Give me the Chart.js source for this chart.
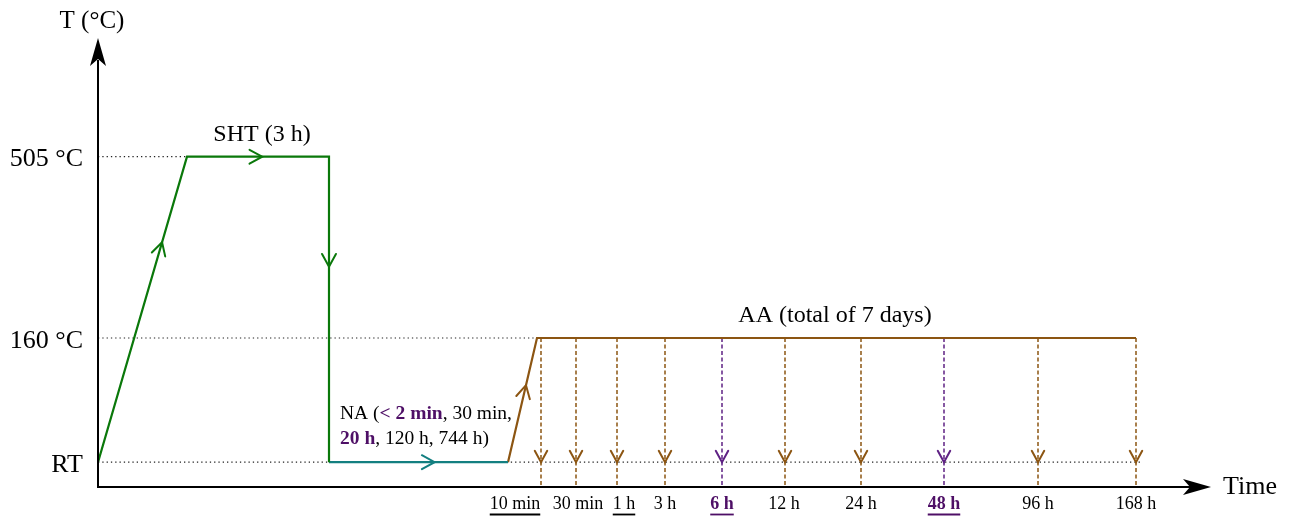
<!DOCTYPE html>
<html>
<head>
<meta charset="utf-8">
<script src="https://cdn.jsdelivr.net/npm/chart.js@4"></script>
<style>
  html, body { margin: 0; padding: 0; background: #ffffff; }
  #wrap { width: 1290px; height: 520px; }
</style>
</head>
<body>
<div id="wrap"><canvas id="c" width="1290" height="520"></canvas></div>
<script>
// ---- schematic data (time axis and temperature axis in schematic units) ----
const tempLevelLabels = ['RT', '160 °C', '505 °C'];
const tempLevelValues = [1, 6, 13.3];

const shtTimes = [0, 8.9, 23.1, 23.1];
const shtTemps = [1, 13.3, 13.3, 1];

const naTimes = [23.1, 41.0];
const naTemps = [1, 1];

const aaTimes = [41.0, 43.9, 103.8];
const aaTemps = [1, 6, 6];

const agingLabels = ['10 min', '30 min', '1 h', '3 h', '6 h', '12 h', '24 h', '48 h', '96 h', '168 h'];
const agingTimes = [44.3, 47.8, 51.9, 56.7, 62.4, 68.7, 76.3, 84.6, 94.0, 103.8];
const agingLabelTimes = [41.7, 48.0, 52.6, 56.7, 62.4, 68.6, 76.3, 84.6, 94.0, 103.8];
const agingHighlighted = [false, false, false, false, true, false, false, true, false, false];
const agingUnderlined = [true, false, true, false, true, false, false, true, false, false];

const refLineEnds = [104.2, 43.9, 8.9];   // where the dotted level lines stop

const timeMax = 111.2;
const tempMax = 18;

// ---- colours ----
const GREEN = '#0a780a';
const TEAL = '#137f80';
const BROWN = '#8c5512';
const PURPLE = '#5f2284';
const PURPLE_TEXT = '#4e0f66';
const SERIF = '"Liberation Serif", "Times New Roman", serif';

const pts = (xs, ys) => xs.map((v, i) => ({ x: v, y: ys[i] }));

const datasets = [];
datasets.push({ data: pts(shtTimes, shtTemps), borderColor: GREEN, borderWidth: 2.2, order: 0 });
datasets.push({ data: pts(naTimes, naTemps), borderColor: TEAL, borderWidth: 2.2, order: 0 });
datasets.push({ data: pts(aaTimes, aaTemps), borderColor: BROWN, borderWidth: 2.2, order: 0 });
agingTimes.forEach((t, i) => {
  datasets.push({
    data: [{ x: t, y: aaTemps[aaTemps.length - 1] }, { x: t, y: 0 }],
    borderColor: agingHighlighted[i] ? PURPLE : BROWN,
    borderWidth: 1.5, borderDash: [4, 2.5], order: 1
  });
});
tempLevelValues.forEach((v, i) => {
  datasets.push({
    data: [{ x: 0, y: v }, { x: refLineEnds[i], y: v }],
    borderColor: '#222222', borderWidth: 1.2, borderDash: [1.3, 3], order: 2
  });
});
datasets.forEach(d => { d.showLine = true; d.pointRadius = 0; d.fill = false; d.tension = 0; });

function chevron(ctx, tx, ty, ang, color, L, spread) {
  ctx.save();
  ctx.strokeStyle = color; ctx.lineWidth = 2; ctx.lineCap = 'round'; ctx.lineJoin = 'miter';
  ctx.beginPath();
  ctx.moveTo(tx + L * Math.cos(ang + Math.PI - spread), ty + L * Math.sin(ang + Math.PI - spread));
  ctx.lineTo(tx, ty);
  ctx.lineTo(tx + L * Math.cos(ang + Math.PI + spread), ty + L * Math.sin(ang + Math.PI + spread));
  ctx.stroke();
  ctx.restore();
}
function stealth(ctx, tx, ty, ang) {
  const c = Math.cos(ang), s = Math.sin(ang);
  const back = 28, half = 8, notch = 21;
  ctx.save();
  ctx.fillStyle = '#000';
  ctx.beginPath();
  ctx.moveTo(tx, ty);
  ctx.lineTo(tx - back * c - half * s, ty - back * s + half * c);
  ctx.lineTo(tx - notch * c, ty - notch * s);
  ctx.lineTo(tx - back * c + half * s, ty - back * s - half * c);
  ctx.closePath();
  ctx.fill();
  ctx.restore();
}
function arrowOnSegment(ctx, a, b, f, color) {
  const tx = a.x + (b.x - a.x) * f, ty = a.y + (b.y - a.y) * f;
  chevron(ctx, tx, ty, Math.atan2(b.y - a.y, b.x - a.x), color, 14.5, 0.5);
}

const annot = {
  id: 'annot',
  afterDatasetsDraw(chart) {
    const { ctx, scales: { x, y } } = chart;
    const px = v => x.getPixelForValue(v), py = v => y.getPixelForValue(v);
    const P = (t, v) => ({ x: px(t), y: py(v) });
    const x0 = px(0), y0 = py(0);

    // axes
    ctx.save();
    ctx.strokeStyle = '#000'; ctx.lineWidth = 2;
    ctx.beginPath();
    ctx.moveTo(x0, y0); ctx.lineTo(x0, py(tempMax) + 20);
    ctx.moveTo(x0 - 1, y0); ctx.lineTo(px(timeMax) - 20, y0);
    ctx.stroke();
    ctx.restore();
    stealth(ctx, x0, py(tempMax) - 2, -Math.PI / 2);
    stealth(ctx, px(timeMax) + 1, y0, 0);

    // direction arrows on the main path
    arrowOnSegment(ctx, P(shtTimes[0], shtTemps[0]), P(shtTimes[1], shtTemps[1]), 0.72, GREEN);
    arrowOnSegment(ctx, P(shtTimes[1], shtTemps[1]), P(shtTimes[2], shtTemps[2]), 0.53, GREEN);
    arrowOnSegment(ctx, P(shtTimes[2], shtTemps[2]), P(shtTimes[3], shtTemps[3]), 0.36, GREEN);
    arrowOnSegment(ctx, P(naTimes[0], naTemps[0]), P(naTimes[1], naTemps[1]), 0.59, TEAL);
    arrowOnSegment(ctx, P(aaTimes[0], aaTemps[0]), P(aaTimes[1], aaTemps[1]), 0.62, BROWN);
    agingTimes.forEach((t, i) => {
      chevron(ctx, px(t), py(tempLevelValues[0]), Math.PI / 2,
        agingHighlighted[i] ? PURPLE : BROWN, 13, 0.5);
    });

    ctx.save();
    ctx.fillStyle = '#000';
    ctx.textBaseline = 'alphabetic';

    // temperature level labels
    ctx.font = '26px ' + SERIF;
    ctx.textAlign = 'right';
    tempLevelValues.forEach((v, i) => ctx.fillText(tempLevelLabels[i], x0 - 15, py(v) + 9.5));

    // axis titles
    ctx.font = '25px ' + SERIF;
    ctx.textAlign = 'center';
    ctx.fillText('T (°C)', x0 - 6, 28);
    ctx.font = '26px ' + SERIF;
    ctx.textAlign = 'left';
    ctx.fillText('Time', px(timeMax) + 13, y0 + 7);

    // stage labels
    ctx.font = '24px ' + SERIF;
    ctx.textAlign = 'center';
    ctx.fillText('SHT (3 h)', px(16.4), py(13.3) - 16);
    ctx.fillText('AA (total of 7 days)', px(73.7), py(6) - 16);

    // NA label with highlighted parts
    const naLines = [
      [['NA (', false], ['< 2 min', true], [', 30 min,', false]],
      [['20 h', true], [', 120 h, 744 h)', false]]
    ];
    ctx.textAlign = 'left';
    naLines.forEach((line, li) => {
      let cx = px(24.2);
      const by = py(2.74) + li * 25;
      line.forEach(([txt, hi]) => {
        ctx.font = (hi ? 'bold ' : '') + '19.5px ' + SERIF;
        ctx.fillStyle = hi ? PURPLE_TEXT : '#000';
        ctx.fillText(txt, cx, by);
        cx += ctx.measureText(txt).width;
      });
    });

    // aging time labels
    ctx.textAlign = 'center';
    agingLabels.forEach((lab, i) => {
      const hi = agingHighlighted[i];
      ctx.font = (hi ? 'bold ' : '') + '18px ' + SERIF;
      ctx.fillStyle = hi ? PURPLE_TEXT : '#000';
      const cx = px(agingLabelTimes[i]);
      const by = y0 + 22;
      ctx.fillText(lab, cx, by);
      if (agingUnderlined[i]) {
        const w = ctx.measureText(lab).width;
        ctx.strokeStyle = hi ? PURPLE_TEXT : '#000';
        ctx.lineWidth = 1.8;
        ctx.beginPath();
        ctx.moveTo(cx - w / 2, by + 5.5); ctx.lineTo(cx + w / 2, by + 5.5);
        ctx.stroke();
      }
    });
    ctx.restore();
  }
};

new Chart(document.getElementById('c'), {
  type: 'scatter',
  data: { datasets },
  options: {
    responsive: false,
    animation: false,
    events: [],
    layout: { padding: { left: 98, right: 80, top: 40, bottom: 33 } },
    plugins: { legend: { display: false }, tooltip: { enabled: false } },
    scales: {
      x: { type: 'linear', min: 0, max: timeMax, display: false },
      y: { type: 'linear', min: 0, max: tempMax, display: false }
    }
  },
  plugins: [annot]
});
</script>
</body>
</html>
